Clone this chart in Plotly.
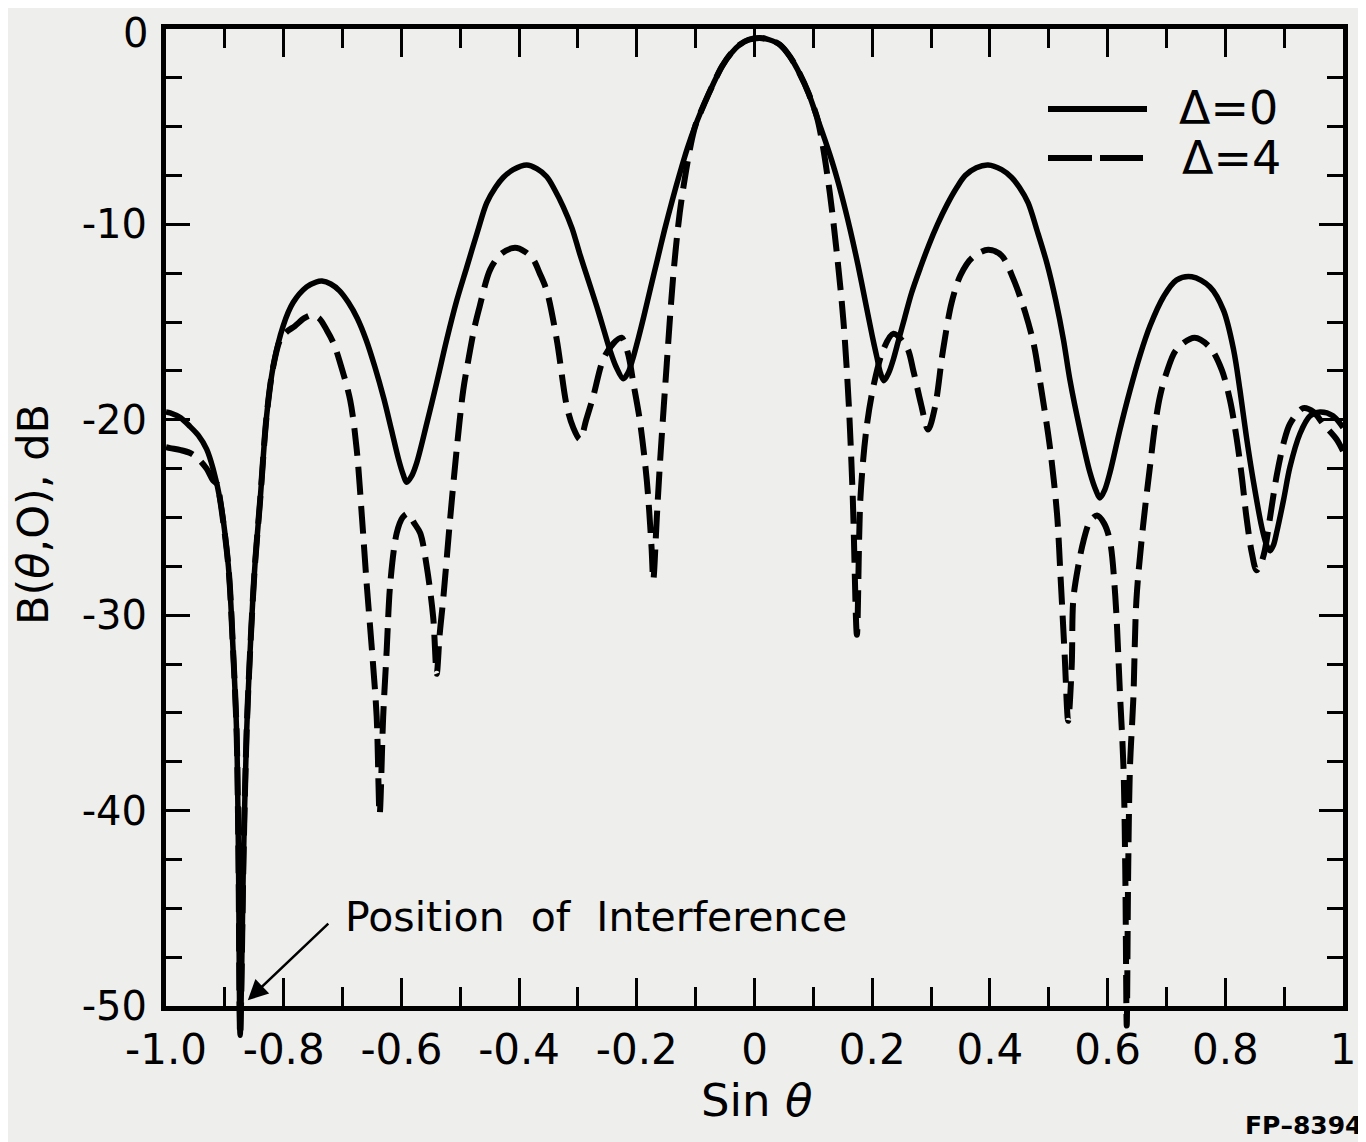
import plotly.graph_objects as go

# ---------------- data ----------------
# Delta = 0 (solid)
x_d0 = [-1.000, -0.993, -0.975, -0.959, -0.945, -0.931, -0.920, -0.908, -0.894, -0.886,
        -0.880, -0.877, -0.874, -0.868, -0.863, -0.857, -0.849, -0.840, -0.829, -0.818,
        -0.801, -0.784, -0.761, -0.745, -0.735, -0.720, -0.705, -0.690, -0.675, -0.660,
        -0.645, -0.630, -0.617, -0.605, -0.597, -0.591, -0.583, -0.574, -0.557, -0.540,
        -0.523, -0.506, -0.489, -0.471, -0.455, -0.440, -0.427, -0.410, -0.387, -0.370,
        -0.353, -0.340, -0.325, -0.310, -0.297, -0.283, -0.268, -0.256, -0.246, -0.235,
        -0.223, -0.215, -0.207, -0.198, -0.188, -0.177, -0.165, -0.153, -0.140, -0.127,
        -0.114, -0.100, -0.085, -0.070, -0.055, -0.040, -0.025, -0.010, 0.009, 0.025,
        0.043, 0.060, 0.077, 0.092, 0.106, 0.120, 0.134, 0.148, 0.162, 0.176,
        0.190, 0.200, 0.208, 0.214, 0.220, 0.228, 0.236, 0.245, 0.255, 0.267,
        0.282, 0.297, 0.311, 0.327, 0.344, 0.358, 0.377, 0.397, 0.420, 0.437,
        0.450, 0.465, 0.480, 0.497, 0.512, 0.525, 0.536, 0.553, 0.570, 0.580,
        0.587, 0.595, 0.604, 0.621, 0.638, 0.655, 0.672, 0.695, 0.717, 0.743,
        0.774, 0.797, 0.814, 0.825, 0.836, 0.848, 0.862, 0.870, 0.876, 0.882,
        0.887, 0.899, 0.910, 0.927, 0.944, 0.961, 0.983, 1.000]
y_d0 = [-19.6, -19.65, -19.9, -20.35, -20.8, -21.5, -22.5, -24.1, -27.5, -31.8,
        -36.0, -42.0, -51.5, -42.0, -36.0, -31.8, -27.5, -24.1, -19.8, -17.3,
        -15.2, -14.0, -13.2, -12.95, -12.9, -13.05, -13.4, -14.0, -14.8, -15.9,
        -17.3, -18.9, -20.5, -22.0, -22.8, -23.2, -22.9, -22.2, -20.2, -18.1,
        -15.9, -13.9, -12.2, -10.4, -8.9, -8.1, -7.6, -7.2, -6.96, -7.15,
        -7.56, -8.2, -9.1, -10.2, -11.5, -12.8, -14.2, -15.4, -16.4, -17.3,
        -17.9, -17.6, -16.9, -15.9, -14.7, -13.3, -11.8, -10.3, -8.8, -7.4,
        -6.1, -4.9, -3.8, -2.8, -1.9, -1.25, -0.8, -0.55, -0.46, -0.55,
        -0.8, -1.4, -2.3, -3.3, -4.5, -5.7, -7.0, -8.5, -10.2, -12.1,
        -14.2, -15.7, -16.8, -17.6, -18.0, -17.6, -16.9, -15.9, -14.8, -13.5,
        -12.2, -11.0, -10.0, -9.0, -8.1, -7.5, -7.1, -6.96, -7.2, -7.6,
        -8.1, -8.9, -10.3, -12.0, -13.9, -15.9, -17.96, -20.5, -22.7, -23.6,
        -24.0, -23.6, -22.7, -20.5, -18.5, -16.7, -15.2, -13.7, -12.85, -12.68,
        -13.2, -14.4, -16.4, -18.5, -20.9, -23.2, -25.5, -26.4, -26.7, -26.4,
        -25.8, -24.1, -22.4, -20.7, -19.8, -19.6, -19.8, -20.4]

# Delta = 4 (dashed)
x_d4 = [-1.000, -0.993, -0.975, -0.959, -0.945, -0.931, -0.920, -0.913, -0.908, -0.894,
        -0.886, -0.880, -0.877, -0.874, -0.868, -0.863, -0.857, -0.849, -0.840, -0.829,
        -0.818, -0.806, -0.795, -0.781, -0.765, -0.752, -0.740, -0.727, -0.715, -0.704,
        -0.687, -0.676, -0.667, -0.659, -0.650, -0.642, -0.637, -0.631, -0.625, -0.619,
        -0.608, -0.598, -0.589, -0.578, -0.568, -0.557, -0.546, -0.540, -0.535, -0.529,
        -0.517, -0.506, -0.495, -0.486, -0.476, -0.467, -0.449, -0.430, -0.407, -0.390,
        -0.376, -0.365, -0.353, -0.336, -0.319, -0.308, -0.2965, -0.286, -0.274, -0.257,
        -0.240, -0.226, -0.215, -0.206, -0.195, -0.183, -0.175, -0.172, -0.166, -0.1606,
        -0.149, -0.138, -0.127, -0.116, -0.106, -0.100, -0.085, -0.070, -0.055, -0.040,
        -0.025, -0.010, 0.009, 0.025, 0.043, 0.060, 0.077, 0.092, 0.106, 0.115,
        0.128, 0.140, 0.151, 0.160, 0.167, 0.174, 0.180, 0.190, 0.202, 0.219,
        0.236, 0.259, 0.270, 0.283, 0.295, 0.307, 0.320, 0.335, 0.350, 0.370,
        0.397, 0.420, 0.440, 0.460, 0.475, 0.485, 0.502, 0.514, 0.520, 0.527,
        0.533, 0.539, 0.5417, 0.550, 0.559, 0.570, 0.582, 0.594, 0.604, 0.613,
        0.621, 0.627, 0.630, 0.6325, 0.635, 0.638, 0.6437, 0.649, 0.660, 0.672,
        0.681, 0.689, 0.700, 0.717, 0.748, 0.774, 0.794, 0.808, 0.819, 0.828,
        0.836, 0.845, 0.853, 0.860, 0.867, 0.876, 0.887, 0.899, 0.910, 0.9325,
        0.950, 0.966, 0.989, 1.000]
y_d4 = [-21.4, -21.45, -21.55, -21.7, -22.0, -22.5, -23.1, -23.3, -24.1, -27.5,
        -31.8, -36.0, -42.0, -51.5, -42.0, -36.0, -31.8, -27.5, -24.1, -19.8,
        -17.3, -15.9, -15.5, -15.2, -14.8, -14.64, -14.8, -15.4, -16.1, -17.1,
        -19.0, -21.5, -25.0, -28.4, -31.8, -35.2, -40.2, -35.2, -31.8, -28.4,
        -25.8, -25.0, -24.8, -25.3, -25.8, -27.5, -30.1, -33.0, -31.0, -29.2,
        -25.0, -21.5, -18.5, -16.9, -15.3, -14.2, -12.3, -11.5, -11.2, -11.4,
        -11.8, -12.5, -13.4, -15.9, -19.3, -20.4, -21.0, -20.0, -18.8, -16.9,
        -16.1, -15.8, -16.6, -18.1, -20.0, -23.1, -26.5, -28.2, -25.0, -22.2,
        -17.1, -12.6, -9.4, -7.2, -5.6, -4.9, -3.8, -2.8, -1.9, -1.25,
        -0.8, -0.55, -0.46, -0.55, -0.8, -1.4, -2.3, -3.3, -4.5, -5.8,
        -8.4, -11.5, -14.9, -19.1, -24.0, -31.0, -24.0, -20.5, -18.3, -16.4,
        -15.6, -16.3, -17.5, -19.2, -20.5, -19.3, -16.5, -14.0, -12.6, -11.7,
        -11.3, -11.6, -12.8, -14.5, -16.2, -18.0, -21.4, -24.8, -28.0, -32.0,
        -35.4, -32.6, -29.2, -27.5, -26.2, -25.2, -24.9, -25.3, -26.2, -29.0,
        -34.0, -37.8, -43.0, -51.0, -43.0, -37.8, -34.3, -29.2, -25.5, -22.4,
        -20.2, -18.8, -17.6, -16.4, -15.8, -16.3, -17.45, -19.0, -20.9, -22.9,
        -25.0, -26.8, -27.7, -27.4, -26.7, -25.0, -22.9, -21.2, -20.2, -19.4,
        -19.6, -20.2, -21.0, -21.6]

x_tickvals = [-1.0, -0.8, -0.6, -0.4, -0.2, 0, 0.2, 0.4, 0.6, 0.8, 1.0]
x_ticktext = ["-1.0", "-0.8", "-0.6", "-0.4", "-0.2", "0", "0.2", "0.4", "0.6", "0.8", "1"]
y_tickvals = [0, -10, -20, -30, -40, -50]
y_ticktext = ["0", "-10", "-20", "-30", "-40", "-50"]
legend_labels = ["\u0394=0", "\u0394=4"]

# ---------------- figure ----------------
FONT = "DejaVu Sans"
BG = "#eeeeec"
OFF = 8                       # page body margin offset
W, H = 1366 - OFF, 1142 - OFF
PLOT_L, PLOT_R, PLOT_T, PLOT_B = 166, 1343, 29, 1040   # reference pixels of drawing area
AXIS_BOTTOM = 1006                                     # reference pixel of y = -50
ML, MR, MT = PLOT_L - OFF, 1366 - PLOT_R, PLOT_T - OFF
MB = H - (PLOT_B - OFF)
plot_h = PLOT_B - PLOT_T
d = (PLOT_B - AXIS_BOTTOM) / plot_h
y2_low = -50 - 50 * (PLOT_B - AXIS_BOTTOM) / (AXIS_BOTTOM - PLOT_T)

# the top label ("0") sits at the very edge of the page: it is drawn as an
# annotation anchored to the page top so that it is not cut off
y_ticktext_axis = ["" if v == 0 else t for v, t in zip(y_tickvals, y_ticktext)]
top_label = y_ticktext[y_tickvals.index(0)]

fig = go.Figure()
fig.add_trace(go.Scatter(x=x_d0, y=y_d0, mode="lines", xaxis="x", yaxis="y2",
                         line=dict(color="black", width=5.5, shape="spline", smoothing=0.9),
                         showlegend=False, hoverinfo="skip"))
fig.add_trace(go.Scatter(x=x_d4, y=y_d4, mode="lines", xaxis="x", yaxis="y2",
                         line=dict(color="black", width=6, dash="28px,11px",
                                   shape="spline", smoothing=0.9),
                         showlegend=False, hoverinfo="skip"))

axis_common = dict(showgrid=False, zeroline=False, showline=True, linecolor="black",
                   linewidth=5, mirror="ticks", ticks="inside", tickcolor="black",
                   tickwidth=3, ticklabeloverflow="allow", automargin=False)

fig.update_layout(
    width=W, height=H, autosize=False,
    margin=dict(l=ML, r=MR, t=MT, b=MB, pad=0, autoexpand=False),
    paper_bgcolor=BG, plot_bgcolor="rgba(0,0,0,0)",
    showlegend=False,
    xaxis=dict(domain=[0, 1], range=[-1, 1], anchor="y",
               tickmode="array", tickvals=x_tickvals, ticktext=x_ticktext,
               ticklen=28, ticklabelstandoff=3,
               tickfont=dict(family=FONT, size=42, color="black"),
               minor=dict(tickmode="linear", tick0=0, dtick=0.1, ticks="inside",
                          ticklen=19, tickwidth=3, tickcolor="black"),
               **axis_common),
    yaxis=dict(domain=[d, 1], range=[-50, 0], anchor="x",
               tickmode="array", tickvals=y_tickvals, ticktext=y_ticktext_axis,
               ticklen=24, ticklabelstandoff=6,
               tickfont=dict(family=FONT, size=40, color="black"),
               minor=dict(tickmode="linear", tick0=0, dtick=2.5, ticks="inside",
                          ticklen=16, tickwidth=3, tickcolor="black"),
               **axis_common),
    yaxis2=dict(domain=[0, 1], range=[y2_low, 0], anchor="x", visible=False,
                showgrid=False, zeroline=False, automargin=False),
)

def px_x(p):
    return (p - PLOT_L) / (PLOT_R - PLOT_L)

def px_y(p):
    return (PLOT_B - p) / plot_h

# top y tick label
fig.add_annotation(x=px_x(149), y=px_y(OFF + 1), xref="paper", yref="paper",
                   text=top_label, showarrow=False, xanchor="right", yanchor="top",
                   borderpad=0, font=dict(family=FONT, size=40, color="black"))

# legend keys
fig.add_shape(type="line", xref="paper", yref="paper",
              x0=px_x(1048), x1=px_x(1147), y0=px_y(109), y1=px_y(109),
              line=dict(color="black", width=6))
fig.add_shape(type="line", xref="paper", yref="paper",
              x0=px_x(1048), x1=px_x(1143), y0=px_y(158), y1=px_y(158),
              line=dict(color="black", width=6, dash="44px,8px"))
fig.add_annotation(x=px_x(1177), y=px_y(108), xref="paper", yref="paper",
                   text=legend_labels[0], showarrow=False, xanchor="left", yanchor="middle",
                   font=dict(family=FONT, size=46, color="black"))
fig.add_annotation(x=px_x(1180), y=px_y(158), xref="paper", yref="paper",
                   text=legend_labels[1], showarrow=False, xanchor="left", yanchor="middle",
                   font=dict(family=FONT, size=46, color="black"))

# axis titles
fig.add_annotation(x=px_x(756), y=px_y(1100), xref="paper", yref="paper",
                   text="Sin <i>\u03b8</i>", showarrow=False, xanchor="center", yanchor="middle",
                   font=dict(family=FONT, size=45, color="black"))
fig.add_annotation(x=px_x(33), y=px_y(515), xref="paper", yref="paper",
                   text="B(<i>\u03b8</i>,O), dB", showarrow=False, textangle=-90,
                   xanchor="center", yanchor="middle",
                   font=dict(family=FONT, size=43, color="black"))

# interference annotation
fig.add_annotation(x=-0.861, y=-49.7, xref="x", yref="y", text="",
                   showarrow=True, ax=82, ay=-78, arrowhead=2, arrowsize=1.6,
                   arrowwidth=2.5, arrowcolor="black")
fig.add_annotation(x=px_x(343), y=px_y(917), xref="paper", yref="paper",
                   text="Position\u00a0 of\u00a0 Interference", showarrow=False,
                   xanchor="left", yanchor="middle",
                   font=dict(family=FONT, size=41, color="black"))

# figure id
fig.add_annotation(x=px_x(1303), y=px_y(1125), xref="paper", yref="paper",
                   text="<b>FP\u20138394</b>", showarrow=False,
                   xanchor="center", yanchor="middle",
                   font=dict(family=FONT, size=25, color="black"))

fig.write_html("out.html")
